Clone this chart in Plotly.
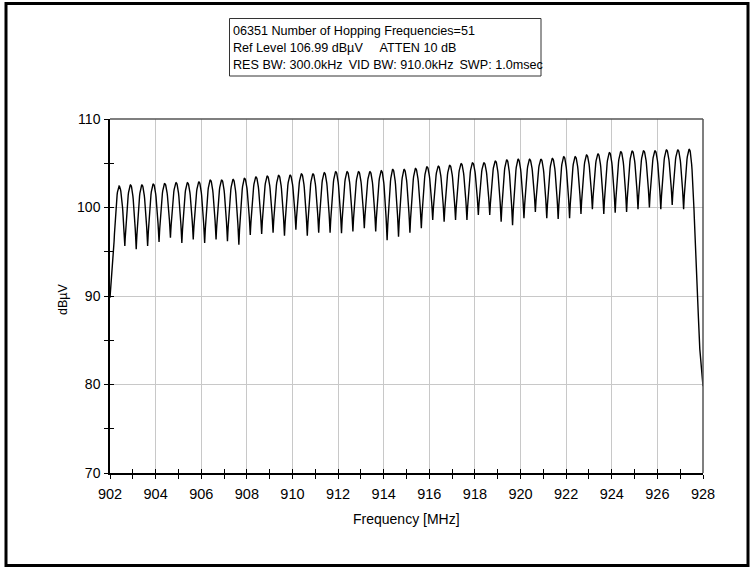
import numpy as np
import plotly.graph_objects as go

# Hopping channel centres (MHz)
channel_mhz = [
    902.4, 902.9, 903.4, 903.9, 904.4, 904.9, 905.4, 905.9, 906.4, 906.9,
    907.4, 907.9, 908.4, 908.9, 909.4, 909.9, 910.4, 910.9, 911.4, 911.9,
    912.4, 912.9, 913.4, 913.9, 914.4, 914.9, 915.4, 915.9, 916.4, 916.9,
    917.4, 917.9, 918.4, 918.9, 919.4, 919.9, 920.4, 920.9, 921.4, 921.9,
    922.4, 922.9, 923.4, 923.9, 924.4, 924.9, 925.4, 925.9, 926.4, 926.9,
    927.4,
]
# Max-hold peak level of each channel (dBµV)
peak_dbuv = [
    102.43, 102.54, 102.54, 102.65, 102.70, 102.80, 102.80, 102.88, 103.10, 103.10,
    103.17, 103.30, 103.45, 103.55, 103.63, 103.66, 103.80, 103.80, 103.93, 104.05,
    104.05, 104.05, 104.05, 104.15, 104.30, 104.30, 104.40, 104.60, 104.67, 104.77,
    104.95, 105.05, 105.05, 105.25, 105.37, 105.45, 105.45, 105.45, 105.55, 105.74,
    105.74, 105.93, 106.05, 106.20, 106.30, 106.38, 106.40, 106.40, 106.50, 106.50,
    106.57,
]
# Level of the notch between neighbouring channels (dBµV)
dip_dbuv = [
    95.65, 95.30, 95.65, 96.10, 96.60, 96.00, 96.40, 96.00, 96.40, 96.20,
    95.80, 96.90, 97.00, 97.15, 96.80, 97.50, 96.80, 97.15, 97.15, 97.10,
    97.30, 97.65, 97.30, 96.30, 96.70, 97.15, 97.65, 98.60, 98.40, 98.60,
    98.60, 99.15, 99.15, 98.40, 98.00, 98.80, 99.50, 98.80, 98.70, 98.80,
    99.27, 99.80, 99.27, 99.40, 99.50, 99.80, 100.00, 99.80, 100.30, 99.80,
]
# Start of sweep and the roll-off at the band edge
lead_mhz = [902.0, 902.15]
lead_dbuv = [89.8, 94.4]
edge_dbuv = 96.5
tail_mhz = [927.72, 927.80, 927.86, 927.92, 927.97, 928.0]
tail_dbuv = [92.5, 87.5, 84.0, 82.0, 80.5, 79.8]

NB = "\u00a0"
THIN = "\u2009"
header_lines = [
    "06351 Number of Hopping Frequencies=51",
    "Ref Level 106.99 dBµV" + NB * 4 + " ATTEN 10 dB",
    "RES BW: 300.0kHz " + THIN + "VID BW: 910.0kHz " + THIN + "SWP: 1.0msec",
]

# ---- build the swept trace: each channel is a parabolic (Gaussian-RBW) hump
half = (channel_mhz[1] - channel_mhz[0]) / 2.0
u = np.linspace(0.0, 1.0, 18)
fx, fy = list(lead_mhz), list(lead_dbuv)
left_lv = [lead_dbuv[-1]] + dip_dbuv
right_lv = dip_dbuv + [edge_dbuv]
for c, pk, lo, ro in zip(channel_mhz, peak_dbuv, left_lv, right_lv):
    for t in u[1:]:
        fx.append(c - half * (1 - t))
        fy.append(pk - (pk - lo) * (1 - t) ** 2)
    for t in u[1:]:
        fx.append(c + half * t)
        fy.append(pk - (pk - ro) * t ** 2)
fx += tail_mhz
fy += tail_dbuv

W, H = 751, 569
ML, MR, MT, MB = 110, 48, 119, 96
PW, PH = W - ML - MR, H - MT - MB


def px_x(p):
    return (p - ML) / PW


def px_y(p):
    return (H - MB - p) / PH


FONT = "Arial, Liberation Sans, sans-serif"

fig = go.Figure()
fig.add_trace(go.Scatter(x=fx, y=fy, mode="lines",
                         line=dict(color="black", width=1.4),
                         hoverinfo="skip", showlegend=False))
# helper traces so the inner-tick axes get drawn
fig.add_trace(go.Scatter(x=[None], y=[None], xaxis="x2", yaxis="y",
                         showlegend=False, hoverinfo="skip"))
fig.add_trace(go.Scatter(x=[None], y=[None], xaxis="x", yaxis="y2",
                         showlegend=False, hoverinfo="skip"))

grid = "#c8c8c8"
fig.update_layout(
    width=W, height=H,
    margin=dict(l=ML, r=MR, t=MT, b=MB),
    paper_bgcolor="white", plot_bgcolor="white",
    showlegend=False,
    xaxis=dict(range=[902, 928], tick0=902, dtick=2, showgrid=True,
               gridcolor=grid, gridwidth=1, zeroline=False,
               showline=True, linecolor="black", linewidth=1.5,
               ticks="outside", ticklen=4, tickcolor="black", tickwidth=1,
               minor=dict(tick0=902, dtick=1, ticks="outside", ticklen=4,
                          tickcolor="black", showgrid=False),
               tickfont=dict(family=FONT, size=14.5, color="black"),
               ticklabelstandoff=3),
    xaxis2=dict(range=[902, 928], overlaying="x", anchor="y", side="bottom",
                tick0=902, dtick=1, showgrid=False, zeroline=False,
                showline=False, showticklabels=False,
                ticks="inside", ticklen=4, tickcolor="black", tickwidth=1),
    yaxis=dict(range=[70, 110], tick0=70, dtick=10, showgrid=True,
               gridcolor=grid, gridwidth=1, zeroline=False,
               showline=True, linecolor="black", linewidth=1.5,
               ticks="outside", ticklen=4, tickcolor="black", tickwidth=1,
               minor=dict(tick0=70, dtick=5, ticks="outside", ticklen=4,
                          tickcolor="black", showgrid=False),
               tickfont=dict(family=FONT, size=14, color="black"),
               ticklabelstandoff=1),
    yaxis2=dict(range=[70, 110], overlaying="y", anchor="x", side="left",
                tick0=70, dtick=5, showgrid=False, zeroline=False,
                showline=False, showticklabels=False,
                ticks="inside", ticklen=4, tickcolor="black", tickwidth=1),
)

shapes = [
    # top and right edges of the plot frame
    dict(type="line", xref="paper", yref="paper", x0=0, x1=1, y0=1, y1=1,
         line=dict(color="#555555", width=1.5)),
    dict(type="line", xref="paper", yref="paper", x0=1, x1=1, y0=0, y1=1,
         line=dict(color="#555555", width=1.5)),
    # outer window frame
    dict(type="rect", xref="paper", yref="paper",
         x0=px_x(6), x1=px_x(748), y0=px_y(565.5), y1=px_y(3.5),
         line=dict(color="black", width=3)),
    # header box
    dict(type="rect", xref="paper", yref="paper",
         x0=px_x(229.5), x1=px_x(541), y0=px_y(76), y1=px_y(18.5),
         line=dict(color="#333333", width=1)),
]
fig.update_layout(shapes=shapes)

annotations = []
for line, py in zip(header_lines, [31.5, 48.3, 65.0]):
    annotations.append(dict(text=line, xref="paper", yref="paper",
                            x=px_x(231), y=px_y(py), xanchor="left",
                            yanchor="middle", showarrow=False,
                            font=dict(family=FONT, size=12.6, color="black")))
annotations.append(dict(text="Frequency [MHz]", xref="paper", yref="paper",
                        x=px_x(406), y=px_y(519), xanchor="center",
                        yanchor="middle", showarrow=False,
                        font=dict(family=FONT, size=14, color="black")))
annotations.append(dict(text="dBµV", xref="paper", yref="paper",
                        x=px_x(63), y=px_y(300), xanchor="center",
                        yanchor="middle", showarrow=False, textangle=-90,
                        font=dict(family=FONT, size=12.5, color="black")))
fig.update_layout(annotations=annotations)

fig.write_html("out.html")
